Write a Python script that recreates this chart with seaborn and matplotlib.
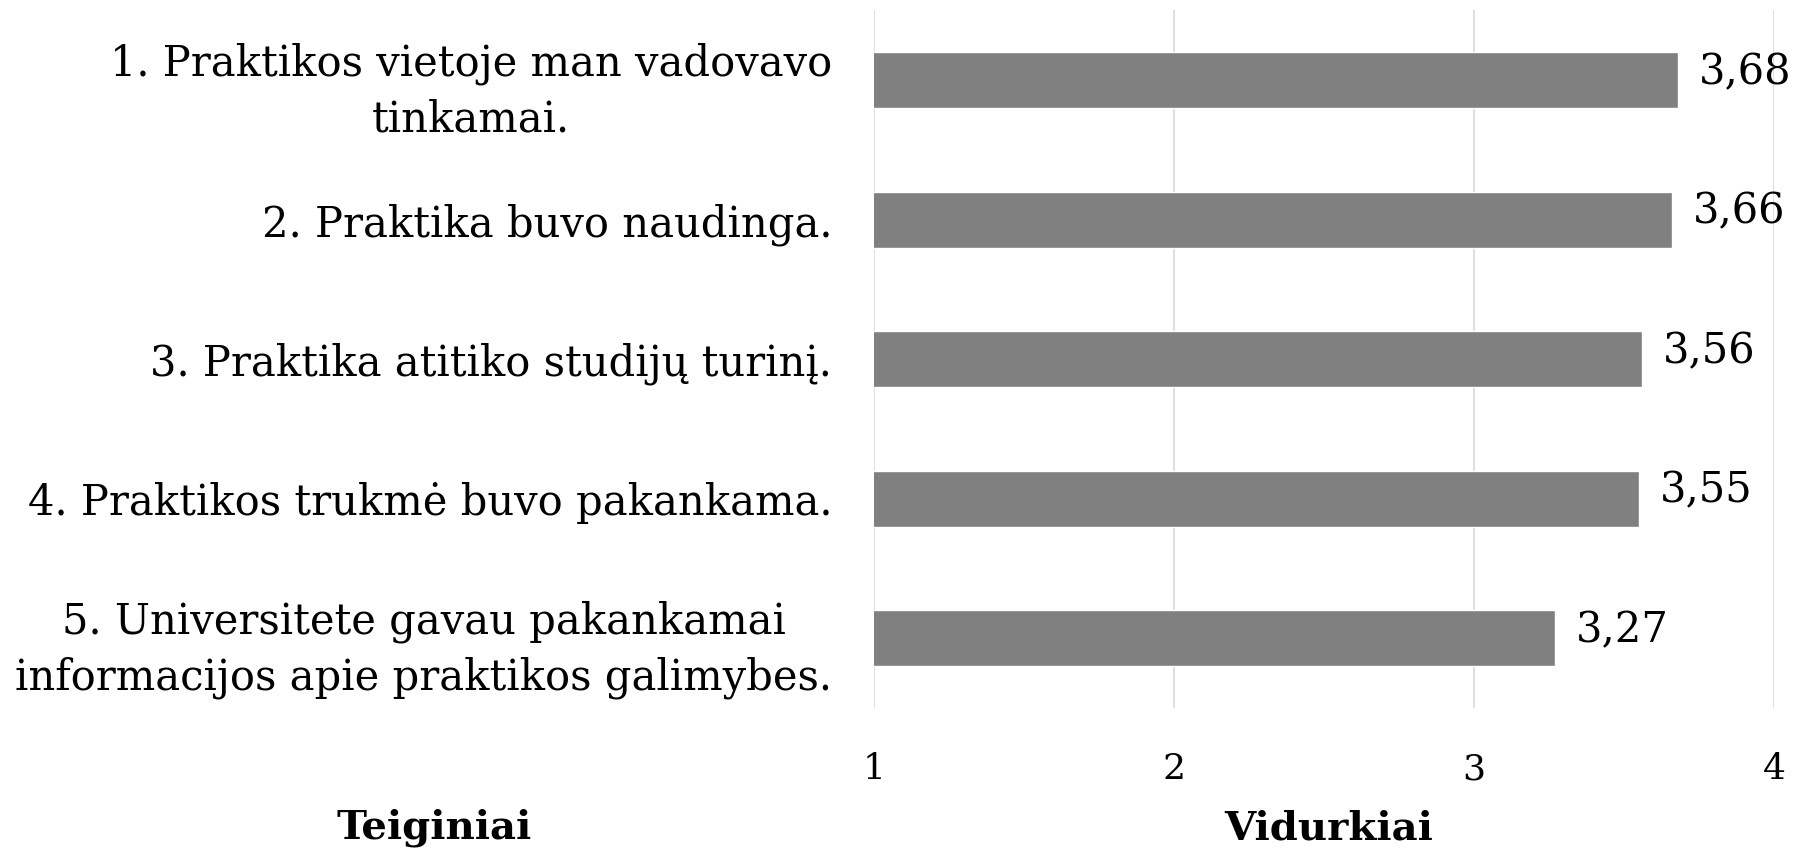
import matplotlib
matplotlib.use("Agg")
import matplotlib.pyplot as plt
import seaborn as sns
import pandas as pd

categories = [
    "1. Praktikos vietoje man vadovavo\ntinkamai.",
    "2. Praktika buvo naudinga.",
    "3. Praktika atitiko studijų turinį.",
    "4. Praktikos trukmė buvo pakankama.",
    "5. Universitete gavau pakankamai\ninformacijos apie praktikos galimybes.",
]
values = [3.68, 3.66, 3.56, 3.55, 3.27]
x_ticks = [1, 2, 3, 4]
x_title = "Vidurkiai"
y_title = "Teiginiai"

sns.set_theme(style="white")
plt.rcParams['font.family'] = ['DejaVu Serif']
plt.rcParams['text.color'] = 'black'
plt.rcParams['xtick.color'] = 'black'
plt.rcParams['ytick.color'] = 'black'

df = pd.DataFrame({"cat": categories, "val": values})

fig = plt.figure(figsize=(17.99, 8.55), dpi=100)
ax = fig.add_axes([874/1799, 1 - 708/855, 900/1799, 697.5/855])

sns.barplot(data=df, x="val", y="cat", orient="h", color="#808080",
            saturation=1, width=0.4, ax=ax)

ax.set_xlim(1, 4)
ax.set_ylim(4.5, -0.5)
ax.set_xticks(x_ticks)
ax.set_xticklabels([str(t) for t in x_ticks], fontsize=26)
ax.tick_params(axis='x', length=0, pad=32)
ax.tick_params(axis='y', length=0, pad=30)
for lab in ax.get_yticklabels():
    lab.set_fontsize(30)
    lab.set_multialignment('center')
    lab.set_linespacing(1.4)
ax.set_xlabel("")
ax.set_ylabel("")
ax.grid(axis='x', color='#d9d9d9', linewidth=1.2)
ax.set_axisbelow(True)
for s in ax.spines.values():
    s.set_visible(False)

for i, v in enumerate(values):
    ax.text(v + 0.07, i - 0.06, f"{v:.2f}".replace('.', ','), va='center',
            ha='left', fontsize=30, color='black', clip_on=False)

fig.text(434/1799, 1 - 828/855, y_title, ha='center', va='center',
         fontsize=29, fontweight='bold')
fig.text(1329/1799, 1 - 828/855, x_title, ha='center', va='center',
         fontsize=29, fontweight='bold')

fig.savefig("out.png", dpi=100, facecolor='white')
